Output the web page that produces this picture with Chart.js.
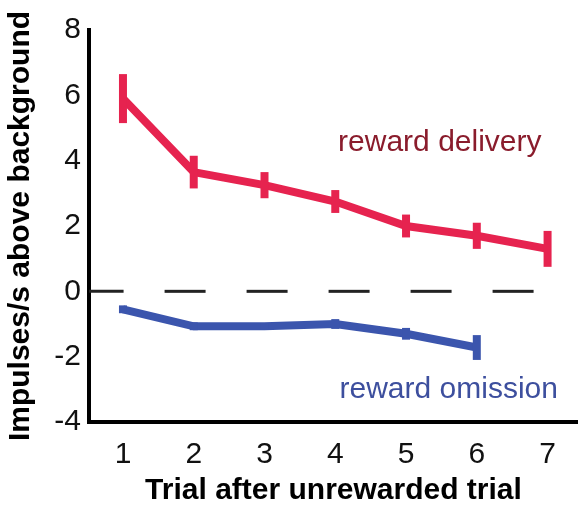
<!DOCTYPE html>
<html>
<head>
<meta charset="utf-8">
<script src="https://cdn.jsdelivr.net/npm/chart.js@4"></script>
<style>
    html, body { margin: 0; padding: 0; background: #ffffff; }
    #wrap { width: 578px; height: 509px; }
</style>
</head>
<body>
<div id="wrap"><canvas id="lineChart" width="578" height="509"></canvas></div>
<script>
// Datos
const trials = [1, 2, 3, 4, 5, 6, 7];
const deliveryValues = [5.9, 3.65, 3.25, 2.75, 2.0, 1.7, 1.3];
const deliveryErrors = [0.75, 0.5, 0.4, 0.35, 0.35, 0.4, 0.55];
const omissionValues = [-0.55, -1.07, -1.07, -1.0, -1.3, -1.72];
const omissionErrors = [0.12, 0.12, 0.1, 0.15, 0.18, 0.38];
const xTicks = [1, 2, 3, 4, 5, 6, 7];
const yTicks = [-4, -2, 0, 2, 4, 6, 8];
const zeroLineRange = [0.5, 6.85];

const redColor = '#e6234f';
const blueColor = '#3b55ad';
const fontFamily = '"Liberation Sans", Arial, sans-serif';

window.addEventListener('load', () => {
    // Barras de error verticales, sin remate
    const errorBars = {
        id: 'errorBars',
        afterDatasetsDraw(chart) {
            const ctx = chart.ctx;
            const xScale = chart.scales.x;
            const yScale = chart.scales.y;
            const series = [
                { values: deliveryValues, errors: deliveryErrors, color: redColor },
                { values: omissionValues, errors: omissionErrors, color: blueColor }
            ];
            ctx.save();
            ctx.lineWidth = 8;
            ctx.lineCap = 'butt';
            series.forEach(s => {
                ctx.strokeStyle = s.color;
                s.values.forEach((v, i) => {
                    const px = xScale.getPixelForValue(trials[i]);
                    ctx.beginPath();
                    ctx.moveTo(px, yScale.getPixelForValue(v + s.errors[i]));
                    ctx.lineTo(px, yScale.getPixelForValue(v - s.errors[i]));
                    ctx.stroke();
                });
            });
            ctx.restore();
        }
    };

    // Etiquetas de texto dentro del gráfico
    const seriesLabels = {
        id: 'seriesLabels',
        afterDraw(chart) {
            const ctx = chart.ctx;
            const xScale = chart.scales.x;
            const yScale = chart.scales.y;
            ctx.save();
            ctx.font = '30px ' + fontFamily;
            ctx.textAlign = 'left';
            ctx.textBaseline = 'alphabetic';
            ctx.fillStyle = '#8a1c2c';
            ctx.fillText('reward delivery', xScale.getPixelForValue(4.04), yScale.getPixelForValue(4.29));
            ctx.fillStyle = '#3d4f9e';
            ctx.fillText('reward omission', xScale.getPixelForValue(4.06), yScale.getPixelForValue(-3.27));
            ctx.restore();
        }
    };

    const lineData = {
        datasets: [
            {
                label: 'reward delivery',
                data: trials.map((t, i) => ({ x: t, y: deliveryValues[i] })),
                borderColor: redColor,
                borderWidth: 8,
                pointRadius: 0,
                tension: 0
            },
            {
                label: 'reward omission',
                data: omissionValues.map((v, i) => ({ x: trials[i], y: v })),
                borderColor: blueColor,
                borderWidth: 8,
                pointRadius: 0,
                tension: 0
            },
            {
                label: 'zero',
                data: zeroLineRange.map(x => ({ x: x, y: 0 })),
                borderColor: '#222222',
                borderWidth: 3,
                borderDash: [41, 41],
                borderDashOffset: 5,
                pointRadius: 0
            }
        ]
    };

    const lineOptions = {
        responsive: false,
        animation: false,
        layout: { padding: { top: 30, right: 0, left: 0, bottom: 0 } },
        plugins: {
            legend: { display: false },
            tooltip: { enabled: false }
        },
        scales: {
            x: {
                type: 'linear',
                min: 0.52,
                max: 7.43,
                afterBuildTicks: scale => { scale.ticks = xTicks.map(v => ({ value: v })); },
                afterFit: scale => { scale.height = 87; },
                grid: { display: false, drawTicks: false },
                border: { display: true, color: '#000000', width: 4 },
                ticks: {
                    padding: 15,
                    color: '#111111',
                    font: { family: fontFamily, size: 30 }
                },
                title: {
                    display: true,
                    text: 'Trial after unrewarded trial',
                    color: '#000000',
                    padding: 0,
                    font: { family: fontFamily, size: 30, weight: 'bold' }
                }
            },
            y: {
                min: -4,
                max: 8,
                afterBuildTicks: scale => { scale.ticks = yTicks.map(v => ({ value: v })); },
                afterFit: scale => { scale.width = 89; },
                grid: { display: false, drawTicks: false },
                border: { display: true, color: '#000000', width: 4 },
                ticks: {
                    padding: 8,
                    color: '#111111',
                    font: { family: fontFamily, size: 30 }
                },
                title: {
                    display: true,
                    text: 'Impulses/s above background',
                    color: '#000000',
                    padding: { top: 3, bottom: 0 },
                    font: { family: fontFamily, size: 30, weight: 'bold' }
                }
            }
        }
    };

    new Chart(document.getElementById('lineChart').getContext('2d'), {
        type: 'line',
        data: lineData,
        options: lineOptions,
        plugins: [errorBars, seriesLabels]
    });
});
</script>
</body>
</html>
